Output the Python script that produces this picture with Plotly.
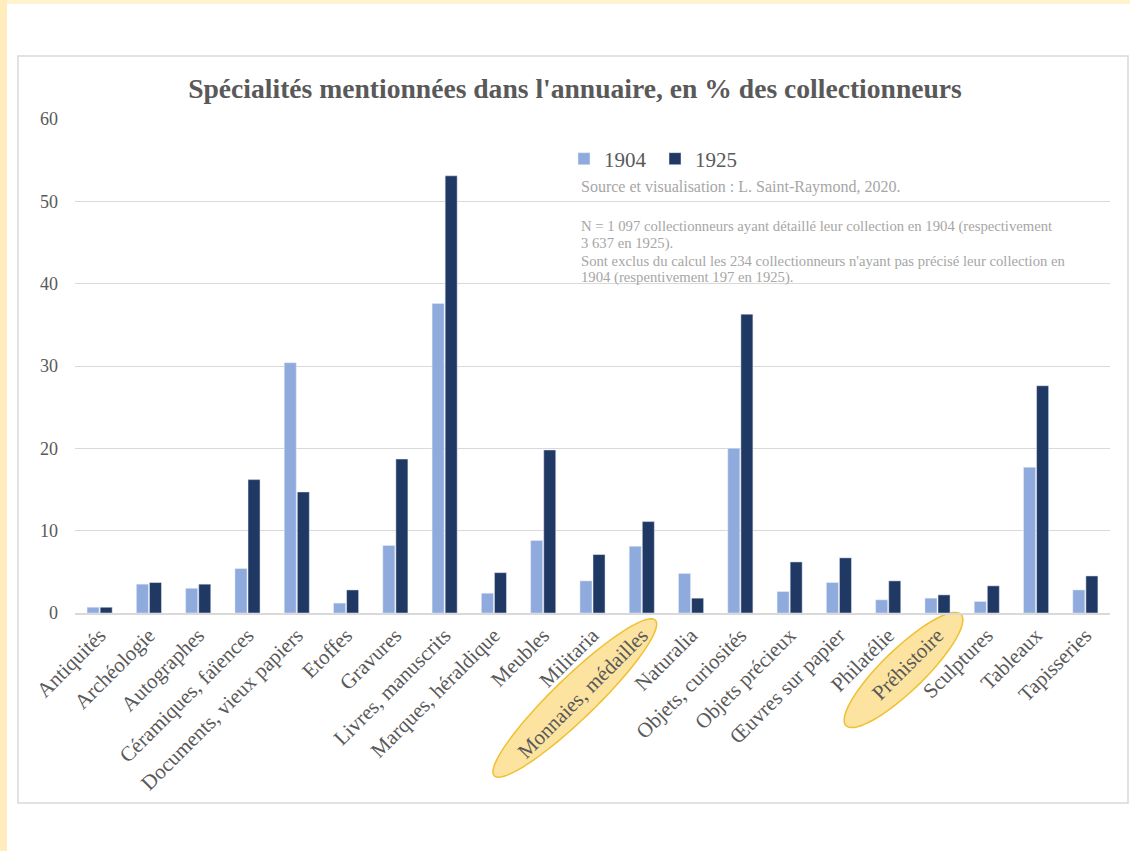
import math
import plotly.graph_objects as go

categories = ["Antiquités", "Archéologie", "Autographes", "Céramiques, faïences",
              "Documents, vieux papiers", "Etoffes", "Gravures", "Livres, manuscrits",
              "Marques, héraldique", "Meubles", "Militaria", "Monnaies, médailles",
              "Naturalia", "Objets, curiosités", "Objets précieux", "Œuvres sur papier",
              "Philatélie", "Préhistoire", "Sculptures", "Tableaux", "Tapisseries"]
values_1904 = [0.7, 3.5, 3.0, 5.4, 30.4, 1.2, 8.2, 37.6, 2.4, 8.8, 3.9, 8.1,
               4.8, 20.0, 2.6, 3.7, 1.6, 1.8, 1.4, 17.7, 2.8]
values_1925 = [0.7, 3.7, 3.5, 16.2, 14.7, 2.8, 18.7, 53.1, 4.9, 19.8, 7.1, 11.1,
               1.8, 36.3, 6.2, 6.7, 3.9, 2.2, 3.3, 27.6, 4.5]
highlighted = ["Monnaies, médailles", "Préhistoire"]
source_text = "Source et visualisation : L. Saint-Raymond, 2020."
note_lines = ["N = 1 097 collectionneurs ayant détaillé leur collection en 1904 (respectivement",
              "3 637 en 1925).",
              "Sont exclus du calcul les 234 collectionneurs n'ayant pas précisé leur collection en",
              "1904 (respentivement 197 en 1925)."]

W, H = 1130, 851
L, R, T, B = 75, 20, 119, 238
PW, PH = W - L - R, H - T - B
N = len(categories)
FONT = "Liberation Serif, Times New Roman, serif"

def px2paper(x, y):
    return (x - L) / PW, (H - B - y) / PH

fig = go.Figure()
fig.add_trace(go.Bar(name="1904", x=categories, y=values_1904, marker_color="#8FAADC"))
fig.add_trace(go.Bar(name="1925", x=categories, y=values_1925, marker_color="#203864"))

shapes = []
# page decorations
shapes.append(dict(type="rect", xref="paper", yref="paper", layer="below",
                   x0=px2paper(0, 0)[0], x1=px2paper(W, 0)[0],
                   y0=px2paper(0, 0)[1], y1=px2paper(0, 4)[1],
                   fillcolor="#FFF2CF", line_width=0))
shapes.append(dict(type="rect", xref="paper", yref="paper", layer="below",
                   x0=px2paper(0, 0)[0], x1=px2paper(7, 0)[0],
                   y0=px2paper(0, 0)[1], y1=px2paper(0, H)[1],
                   fillcolor="#FFEDBD", line_width=0))
shapes.append(dict(type="rect", xref="paper", yref="paper", layer="below",
                   x0=px2paper(18, 0)[0], x1=px2paper(1128, 0)[0],
                   y0=px2paper(0, 56)[1], y1=px2paper(0, 803)[1],
                   fillcolor="rgba(0,0,0,0)", line=dict(color="#D9D9D9", width=1.5)))

# highlight ellipses around tick labels
ell = {"Monnaies, médailles": (-67, 85, 112, 21, 44),
       "Préhistoire": (-34, 57, 80, 21, 44)}
for cat in highlighted:
    i = categories.index(cat)
    dx, dy, a, b, ang = ell[cat]
    cx = L + (i + 0.5) * PW / N + dx
    cy = H - B + dy
    th = math.radians(ang)
    ux, uy = math.cos(th), -math.sin(th)
    vx, vy = math.sin(th), math.cos(th)
    pts = []
    for k in range(73):
        t = 2 * math.pi * k / 72
        x = cx + a * math.cos(t) * ux + b * math.sin(t) * vx
        y = cy + a * math.cos(t) * uy + b * math.sin(t) * vy
        pts.append(px2paper(x, y))
    path = "M " + " L ".join(f"{p[0]:.5f},{p[1]:.5f}" for p in pts) + " Z"
    shapes.append(dict(type="path", xref="paper", yref="paper", layer="below",
                       path=path, fillcolor="#FCE3A0",
                       line=dict(color="#F0C030", width=1.5)))

annotations = [
    dict(text=source_text,
         x=px2paper(579, 0)[0], y=px2paper(0, 187)[1], xref="paper", yref="paper",
         xanchor="left", yanchor="middle", showarrow=False,
         font=dict(family=FONT, size=16, color="#A6A6A6")),
]
for k, line in enumerate(note_lines):
    annotations.append(dict(text=line,
                            x=px2paper(579, 0)[0], y=px2paper(0, 226 + 17.3 * k)[1],
                            xref="paper", yref="paper", xanchor="left", yanchor="middle",
                            showarrow=False,
                            font=dict(family=FONT, size=14.7, color="#A6A6A6")))

fig.update_layout(
    width=W, height=H,
    margin=dict(l=L, r=R, t=T, b=B, pad=0),
    paper_bgcolor="white", plot_bgcolor="rgba(0,0,0,0)",
    font=dict(family=FONT, color="#595959"),
    title=dict(text="<b>Spécialités mentionnées dans l'annuaire, en % des collectionneurs</b>",
               x=px2paper(575, 0)[0], xref="paper", xanchor="center",
               y=1 - 88 / H, yanchor="middle",
               font=dict(family=FONT, size=27.6, color="#595959")),
    barmode="group", bargap=0.47, bargroupgap=0.08,
    legend=dict(orientation="h", x=px2paper(564, 0)[0], y=px2paper(0, 159)[1],
                xanchor="left", yanchor="middle", bgcolor="rgba(0,0,0,0)",
                font=dict(family=FONT, size=21, color="#595959"),
                itemwidth=30, tracegroupgap=0, entrywidth=46, entrywidthmode="pixels"),
    xaxis=dict(tickangle=-45, tickfont=dict(family=FONT, size=21, color="#595959"),
               showgrid=False, showline=True, linecolor="#D9D9D9", linewidth=1.5,
               ticks=""),
    yaxis=dict(range=[0, 60], dtick=10, showgrid=True, gridcolor="#D9D9D9", gridwidth=1.2,
               zeroline=False, showline=False, ticks="",
               tickfont=dict(family=FONT, size=18, color="#595959"),
               ticklabelstandoff=16),
    shapes=shapes, annotations=annotations,
)

fig.write_html("out.html", config={"displayModeBar": False},
               post_script="document.body.style.margin='0px';document.body.style.overflow='hidden';")
